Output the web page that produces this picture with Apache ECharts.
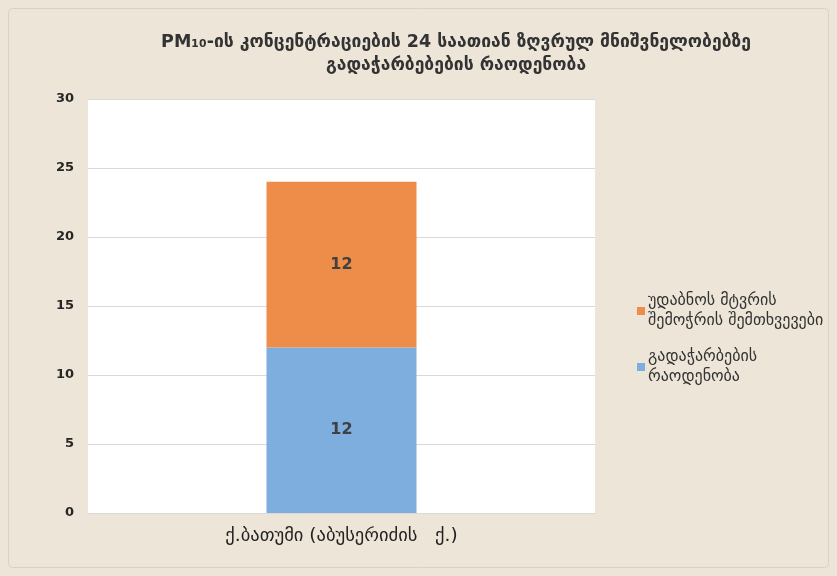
<!DOCTYPE html>
<html><head><meta charset="utf-8">
<script src="https://cdn.jsdelivr.net/npm/echarts@6/dist/echarts.min.js"></script>
<style>html,body{margin:0;padding:0;background:#EDE6D8;}#c{width:837px;height:576px;}</style>
</head><body><div id="c"></div>
<script>
const titleLines = ['PM₁₀-ის კონცენტრაციების 24 საათიან ზღვრულ მნიშვნელობებზე', 'გადაჭარბებების რაოდენობა'];
const categories = ['ქ.ბათუმი (აბუსერიძის   ქ.)'];
const seriesNames = ['გადაჭარბების რაოდენობა', 'უდაბნოს მტვრის შემოჭრის შემთხვევები'];
const legendLines = {
  'გადაჭარბების რაოდენობა': 'გადაჭარბების\nრაოდენობა',
  'უდაბნოს მტვრის შემოჭრის შემთხვევები': 'უდაბნოს მტვრის\nშემოჭრის შემთხვევები'
};
const exceedValues = [12];
const dustValues = [12];
const yTicks = {min: 0, max: 30, interval: 5};

const chart = echarts.init(document.getElementById('c'));
chart.setOption({
  backgroundColor: '#EDE6D8',
  animation: false,
  title: {
    text: titleLines.join('\n'),
    left: 451, top: 26, textAlign: 'center',
    textStyle: {fontFamily: 'DejaVu Sans', fontWeight: 'bold', fontSize: 17.5, color: '#333', lineHeight: 23}
  },
  legend: {
    orient: 'vertical', left: 632, top: 286, itemWidth: 8, itemHeight: 8, itemGap: 16, itemStyle: {borderWidth: 0},
    data: [seriesNames[1], seriesNames[0]],
    formatter: n => legendLines[n],
    textStyle: {fontFamily: 'DejaVu Sans', fontSize: 16, color: '#333', lineHeight: 20, padding: [0, 0, 0, -2]},
    icon: 'rect'
  },
  grid: {left: 88, top: 99, width: 507, height: 414, backgroundColor: '#FFFFFF', show: true, borderWidth: 0},
  xAxis: {
    type: 'category', data: categories,
    axisLine: {show: true, lineStyle: {color: '#D9D9D9'}},
    axisTick: {show: false},
    axisLabel: {fontFamily: 'DejaVu Sans', fontSize: 18.5, color: '#222', margin: 14}
  },
  yAxis: {
    type: 'value', min: yTicks.min, max: yTicks.max, interval: yTicks.interval,
    axisLine: {show: false}, axisTick: {show: false},
    splitLine: {lineStyle: {color: '#D9D9D9', width: 1}},
    axisLabel: {fontFamily: 'DejaVu Sans', fontWeight: 'bold', fontSize: 13, color: '#262626', margin: 14}
  },
  series: [
    {name: seriesNames[0], type: 'bar', stack: 's', data: exceedValues, barWidth: 150,
     itemStyle: {color: '#7DAEDD'},
     label: {show: true, position: 'inside', fontFamily: 'DejaVu Sans', fontWeight: 'bold', fontSize: 16, color: '#404040'}},
    {name: seriesNames[1], type: 'bar', stack: 's', data: dustValues, barWidth: 150,
     itemStyle: {color: '#EE8D4A'},
     label: {show: true, position: 'inside', fontFamily: 'DejaVu Sans', fontWeight: 'bold', fontSize: 16, color: '#404040'}}
  ],
  graphic: [{type: 'rect', shape: {x: 8.5, y: 8.5, width: 820, height: 559, r: 4}, style: {fill: 'none', stroke: '#D8D2C4', lineWidth: 1}, silent: true}]
});
</script></body></html>
